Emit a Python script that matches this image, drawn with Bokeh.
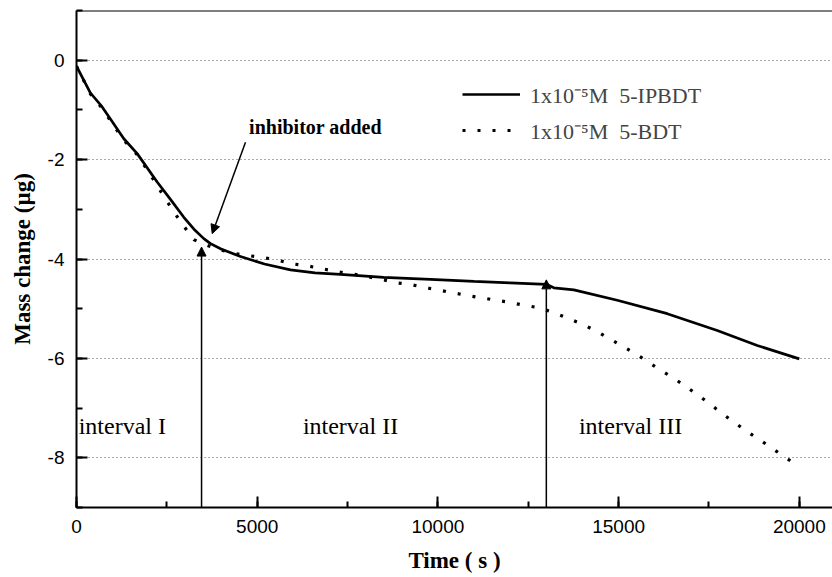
from bokeh.plotting import figure
from bokeh.models import (Arrow, NormalHead, Legend, LegendItem, Span, Label,
                          SingleIntervalTicker, Range1d, CustomJSTickFormatter)
from bokeh.embed import file_html
from bokeh.resources import INLINE

# ---- data ----
t_ipbdt = [0, 200, 387, 711, 1000, 1310, 1679, 2232, 2600, 2970, 3250, 3523, 3708, 4000,
           4538, 5200, 5921, 6600, 7305, 8500, 9795, 11000, 12000, 13000, 13208, 13761,
           14962, 16346, 17729, 18836, 20000]
m_ipbdt = [-0.12, -0.40, -0.66, -0.94, -1.25, -1.58, -1.88, -2.45, -2.80, -3.16, -3.40,
           -3.59, -3.69, -3.80, -3.95, -4.10, -4.22, -4.28, -4.31, -4.37, -4.41, -4.45,
           -4.48, -4.51, -4.58, -4.62, -4.83, -5.10, -5.44, -5.74, -6.01]

t_bdt = [0, 387, 711, 987, 1310, 1679, 2000, 2417, 2693, 2970, 3246, 3500, 3708, 4100, 4520,
         4953, 5322, 5599, 5995, 6410, 6826, 7259, 7700, 8088, 8503, 8872, 9287, 9684,
         10487, 10948, 11529, 11961, 12376, 12791, 13208, 13623, 14020, 14453, 14840,
         15238, 15625, 16041, 16436, 16667, 17082, 17479, 17884, 18281, 18696, 19092,
         19507, 19914, 20000]
m_bdt = [-0.12, -0.68, -0.97, -1.27, -1.61, -1.90, -2.25, -2.74, -3.05, -3.34, -3.61, -3.70,
         -3.75, -3.84, -3.91, -3.95, -3.99, -4.03, -4.10, -4.14, -4.20, -4.26, -4.31, -4.36,
         -4.42, -4.48, -4.52, -4.58, -4.69, -4.75, -4.82, -4.87, -4.93, -4.98, -5.08,
         -5.20, -5.32, -5.48, -5.64, -5.81, -5.98, -6.18, -6.36, -6.47, -6.68, -6.89,
         -7.12, -7.33, -7.54, -7.73, -7.94, -8.14, -8.19]

series_labels = ["1x10\u207b\u2075M\u00a0\u00a05-IPBDT", "1x10\u207b\u2075M\u00a0\u00a05-BDT"]

# annotations
interval_text = ["interval I", "interval II", "interval III"]
interval_x = [60, 7582, 15330]
interval_y = [-7.36, -7.36, -7.36]

marker_arrow_x = [3460, 13000]
marker_arrow_tip = [-3.76, -4.42]

inhib_text = "inhibitor added"
inhib_start = (4676, -1.65)
inhib_end = (3755, -3.49)
inhib_label_pos = (6613, -1.34)

X_RANGE = (0, 20918)
Y_RANGE = (-9, 1)

p = figure(width=832, height=577, output_backend="svg", toolbar_location=None,
           x_range=Range1d(*X_RANGE), y_range=Range1d(*Y_RANGE),
           min_border_left=76, min_border_right=0, min_border_top=10, min_border_bottom=70)
p.outline_line_color = None
p.background_fill_color = "white"
p.border_fill_color = "white"

serif = "Liberation Serif"
sans = "Liberation Sans"

# axes
for ax in (p.xaxis[0], p.yaxis[0]):
    ax.axis_line_width = 2
    ax.axis_line_color = "black"
    ax.major_tick_in = 11
    ax.major_tick_out = 0
    ax.minor_tick_in = 6
    ax.minor_tick_out = 0
    ax.major_tick_line_width = 2
    ax.minor_tick_line_width = 2
    ax.major_label_text_font = sans
    ax.major_label_text_font_size = "19px"
    ax.major_label_text_color = "black"
    ax.major_label_standoff = 12
    ax.axis_label_text_font = serif
    ax.axis_label_text_font_style = "bold"
    ax.axis_label_text_font_size = "23px"
    ax.axis_label_text_color = "black"
    ax.formatter = CustomJSTickFormatter(code="return tick.toFixed(0);")

p.xaxis.ticker = SingleIntervalTicker(interval=5000, num_minor_ticks=2)
p.yaxis.ticker = SingleIntervalTicker(interval=2, num_minor_ticks=2)
p.xaxis.axis_label = "Time ( s )"
p.yaxis.axis_label = "Mass change (\u00b5g)"
p.xaxis.axis_label_standoff = 12
p.yaxis.axis_label_standoff = 10

p.xgrid.grid_line_color = None
p.ygrid.grid_line_color = "#555555"
p.ygrid.grid_line_dash = "1 3"
p.ygrid.grid_line_width = 1

# top frame line
p.add_layout(Span(location=Y_RANGE[1], dimension="width", line_color="black", line_width=2))

r1 = p.line(t_ipbdt, m_ipbdt, line_color="black", line_width=2.7)
r2 = p.line(t_bdt, m_bdt, line_color="black", line_width=3.2, line_dash="3 12")

legend = Legend(items=[LegendItem(label=series_labels[0], renderers=[r1]),
                       LegendItem(label=series_labels[1], renderers=[r2])],
                location=(386, 362), padding=0, margin=0, spacing=6,
                glyph_width=58, glyph_height=22, label_height=22, label_standoff=10,
                label_text_font=serif, label_text_font_size="22px",
                background_fill_alpha=0, border_line_color=None)
p.add_layout(legend)

# interval labels
for txt, x, y in zip(interval_text, interval_x, interval_y):
    align = "left" if x < 1000 else "center"
    p.add_layout(Label(x=x, y=y, text=txt, text_font=serif, text_font_size="24px",
                       text_align=align, text_baseline="alphabetic", text_color="black"))

# vertical marker arrows
for x, tip in zip(marker_arrow_x, marker_arrow_tip):
    p.add_layout(Arrow(x_start=x, y_start=Y_RANGE[0], x_end=x, y_end=tip,
                       line_width=1.5, line_color="black",
                       end=NormalHead(size=9, fill_color="black", line_color="black")))

# inhibitor arrow and label
p.add_layout(Arrow(x_start=inhib_start[0], y_start=inhib_start[1],
                   x_end=inhib_end[0], y_end=inhib_end[1],
                   line_width=1.5, line_color="black",
                   end=NormalHead(size=9, fill_color="black", line_color="black")))
p.add_layout(Label(x=inhib_label_pos[0], y=inhib_label_pos[1], text=inhib_text,
                   text_font=serif, text_font_style="bold", text_font_size="20px",
                   text_align="center", text_baseline="middle", text_color="black"))

open("out.html", "w").write(file_html(p, INLINE))
